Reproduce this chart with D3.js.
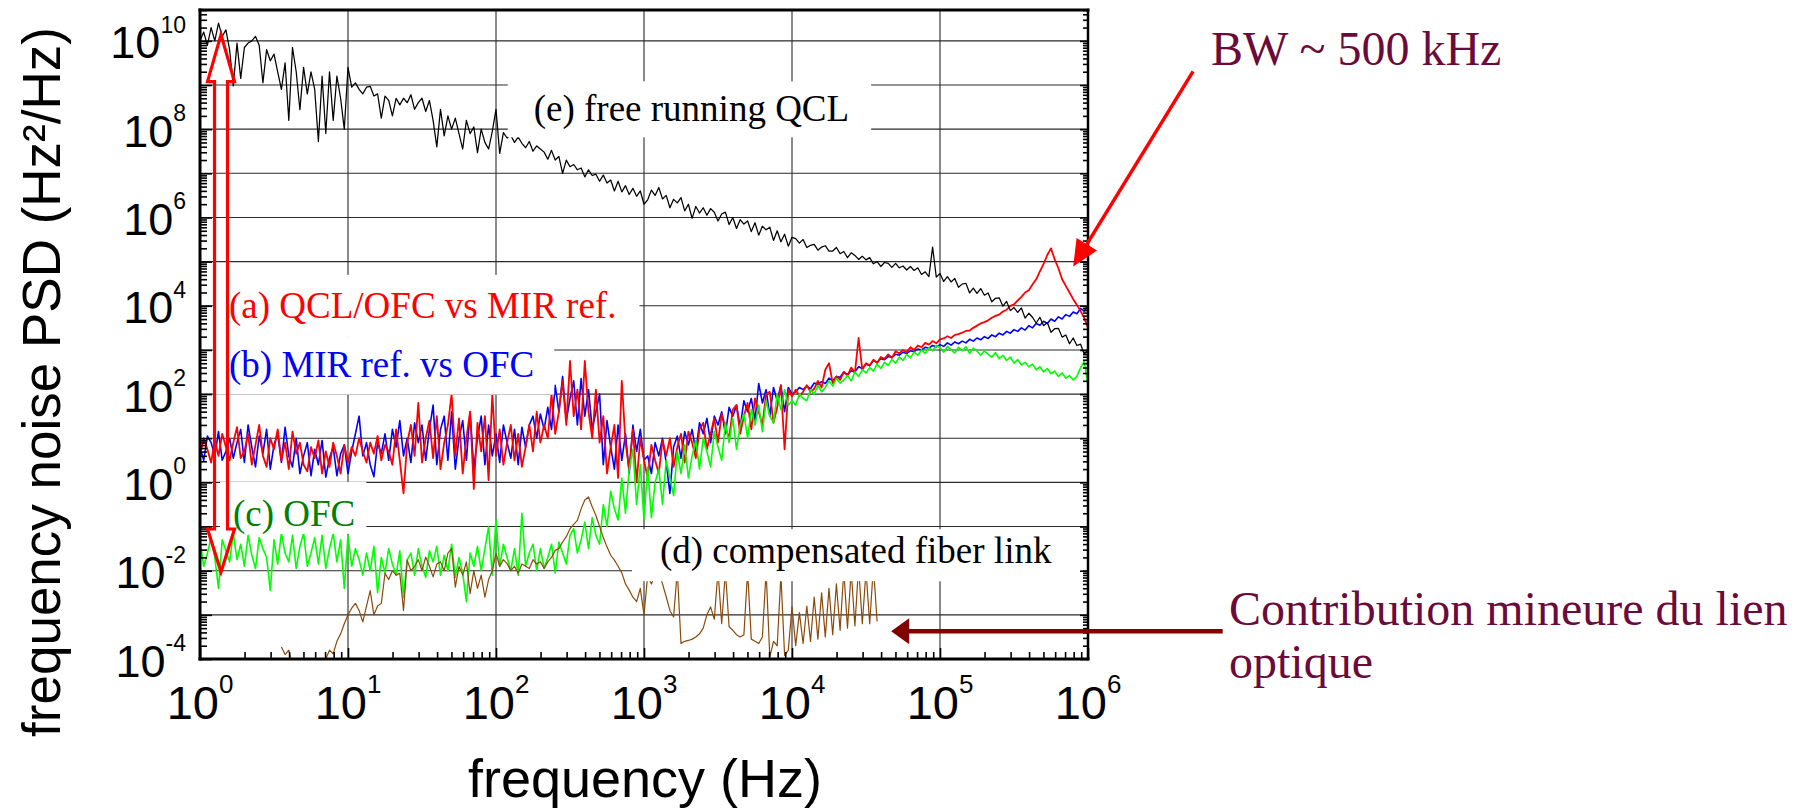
<!DOCTYPE html>
<html>
<head>
<meta charset="utf-8">
<script src="https://cdn.jsdelivr.net/npm/d3@7"></script>
<style>
  html, body { margin: 0; padding: 0; background: #fff; }
  svg { display: block; }
</style>
</head>
<body>
<svg id="chart" width="1805" height="811"></svg>
<script>
// Frequency-noise PSDs sampled on a common logarithmic grid:
// f = 10^(FREQ_START_EXP + i * FREQ_STEP_EXP) Hz, from 1 Hz to 1 MHz.
const FREQ_START_EXP = 0;
const FREQ_STEP_EXP = 0.025;

// Values are log10 of the PSD in Hz²/Hz; null means no data at that frequency.
const freeRunningQCL = [
  10.0,10.2,9.9,10.3,10.0,10.4,10.1,10.25,9.8,8.98,9.95,9.15,9.85,9.95,10.0,10.1,9.9,9.05,9.8,9.55,
  9.7,9.3,8.9,9.5,8.2,9.85,9.3,8.44,9.4,8.8,9.3,8.9,7.72,9.2,7.9,9.3,8.2,9.2,8.7,8.0,9.4,
  8.95,9.05,8.9,8.8,8.95,8.97,8.75,8.8,8.25,8.75,8.65,8.3,8.7,8.55,8.7,8.6,8.78,8.45,8.6,8.7,
  8.4,8.65,8.2,7.6,8.45,7.85,8.3,8.0,8.25,7.9,7.55,8.2,7.9,8.05,7.47,8.0,7.7,7.55,7.95,8.45,
  7.45,7.92,7.8,7.86,7.7,7.82,7.68,7.58,7.72,7.5,7.62,7.55,7.48,7.32,7.52,7.3,7.38,7.0,7.3,7.15,
  7.2,7.08,7.12,6.92,7.08,6.95,6.98,6.82,6.96,6.78,6.85,6.6,6.82,6.58,6.72,6.52,6.66,6.48,6.6,6.3,
  6.4,6.62,6.5,6.68,6.42,6.5,6.22,6.41,6.33,6.45,6.15,6.3,5.98,6.25,6.1,6.22,6.05,6.2,6.12,5.92,
  6.08,6.12,5.84,6.0,5.75,5.95,5.85,5.92,5.68,5.88,5.6,5.8,5.72,5.78,5.48,5.7,5.45,5.62,5.35,5.55,
  5.52,5.42,5.5,5.32,5.37,5.39,5.26,5.33,5.36,5.24,5.24,5.32,5.18,5.23,5.09,5.2,5.14,5.05,5.12,5.04,
  5.09,4.95,5.0,4.89,4.98,4.96,4.87,4.96,4.86,4.9,4.81,4.89,4.8,4.86,4.71,4.77,4.66,5.33,4.65,4.73,
  4.55,4.66,4.54,4.62,4.42,4.49,4.51,4.29,4.4,4.28,4.39,4.24,4.29,4.09,4.17,4.18,3.99,4.1,3.89,3.96,
  3.85,3.95,3.72,3.83,3.74,3.61,3.74,3.55,3.62,3.4,3.48,3.49,3.29,3.34,3.14,3.27,3.1,3.13,2.9,3.01
];

const qclOfcVsMirRef = [
  0.6,1.0,0.75,0.45,0.95,0.6,1.1,0.8,0.5,0.9,
  1.25,0.55,0.7,1.1,0.4,0.85,1.3,0.6,0.35,1.0,0.75,1.2,0.5,0.9,0.3,1.15,0.65,
  0.9,0.4,0.25,0.8,0.55,0.95,0.2,0.7,0.35,0.9,0.6,0.2,0.85,0.45,
  0.8,0.6,1.0,0.7,0.45,0.9,0.65,1.05,0.5,0.85,0.7,0.4,
  1.2,0.5,-0.25,0.9,1.3,0.6,1.8,0.45,1.0,1.4,0.55,
  1.5,0.3,0.9,1.3,2.0,0.6,1.45,0.2,1.0,1.6,-0.15,1.35,0.7,1.5,0.05,2.0,0.6,
  1.2,0.4,0.9,1.3,0.5,1.1,0.35,0.8,1.3,0.7,
  1.6,0.9,1.3,1.0,
  2.0,1.1,1.6,2.3,1.3,2.75,1.5,2.1,1.2,2.75,1.6,1.0,2.1,0.9,
  1.5,0.2,0.8,1.3,0.1,2.3,0.9,0.3,1.2,0.0,1.0,0.5,
  0.1,0.85,0.5,0.2,0.95,0.6,1.0,0.35,0.8,1.1,0.45,1.15,0.9,0.55,1.2,1.35,0.75,1.1,1.45,0.9,
  1.55,1.25,1.0,1.65,1.75,1.1,1.5,1.8,1.2,1.9,1.6,1.3,2.0,2.05,1.35,1.7,2.2,0.75,2.1,1.95,
  2.1,1.95,2.05,2.2,2.05,2.12,2.3,2.15,2.55,2.7,2.25,2.4,2.32,2.5,2.42,2.6,2.48,3.27,2.55,2.7,
  2.65,2.78,2.7,2.84,2.8,2.9,2.82,2.97,2.92,3.0,2.95,3.06,3.0,3.1,3.06,3.16,3.12,3.2,3.15,3.24,
  3.26,3.31,3.27,3.34,3.36,3.39,3.43,3.44,3.5,3.55,3.6,3.63,3.67,3.73,3.77,3.8,3.87,3.91,4.0,4.03,
  4.12,4.2,4.3,4.35,4.48,4.6,4.78,4.95,5.15,5.3,5.05,4.85,4.6,4.45,4.3,4.15,4.02,3.88,3.72,3.5
];

const mirRefVsOfc = [
  0.8,0.5,1.05,0.9,0.6,1.15,0.5,0.7,1.0,0.55,
  0.9,1.2,0.45,1.3,0.8,0.35,1.05,0.65,1.2,0.3,0.85,1.1,0.45,1.25,0.6,0.35,1.0,
  0.2,0.6,0.9,0.15,0.75,0.4,0.95,0.12,0.55,0.8,0.15,0.65,0.85,0.2,
  0.7,1.1,1.5,0.6,0.9,0.4,0.13,0.9,0.65,1.1,0.5,1.2,
  0.8,1.4,0.6,1.0,0.45,1.35,0.9,1.3,0.5,1.2,1.75,
  0.4,1.2,1.5,0.5,1.6,0.3,1.0,1.4,0.5,1.6,0.3,1.0,1.5,0.4,1.3,0.6,1.1,
  0.45,1.3,0.9,0.55,1.2,0.4,1.25,0.8,1.3,1.5,
  1.0,1.55,1.2,1.7,
  1.2,2.2,1.6,2.4,1.4,1.9,2.3,1.3,2.35,1.5,2.1,1.2,1.6,2.0,
  0.4,1.4,0.8,0.3,1.3,0.5,1.1,0.2,1.3,0.7,1.2,0.5,
  0.6,0.2,0.9,0.6,1.0,0.45,-0.25,0.8,1.05,0.55,1.15,0.85,1.2,0.7,1.35,1.1,1.45,0.9,1.5,1.3,
  1.6,1.1,1.7,1.5,1.75,1.25,1.85,1.6,1.9,1.4,2.24,1.8,2.1,1.5,2.15,1.85,2.2,1.6,2.15,2.0,
  2.05,2.15,2.1,2.18,2.12,2.25,2.22,2.28,2.24,2.36,2.3,2.4,2.38,2.5,2.44,2.53,2.5,2.62,2.58,2.68,
  2.64,2.76,2.72,2.8,2.78,2.85,2.83,2.9,2.88,2.95,2.92,2.98,2.96,3.02,3.0,3.06,3.04,3.1,3.07,3.12,
  3.08,3.16,3.11,3.18,3.14,3.2,3.16,3.24,3.2,3.27,3.23,3.3,3.26,3.34,3.3,3.38,3.34,3.42,3.38,3.46,
  3.42,3.5,3.45,3.55,3.5,3.6,3.56,3.65,3.6,3.7,3.65,3.75,3.7,3.8,3.76,3.86,3.82,3.94,3.88,4.0
];

const ofcAlone = [
  -1.3,-1.9,-1.6,-1.25,-1.7,-2.4,-1.3,-1.55,-1.8,-1.15,-1.75,-1.4,-1.9,-1.2,-1.65,-1.95,-1.25,-1.5,-1.7,-2.45,
  -1.3,-1.85,-1.15,-1.6,-1.8,-1.2,-1.95,-1.45,-1.15,-1.9,-1.6,-1.25,-1.85,-1.2,-1.95,-1.5,-1.15,-1.8,-1.3,-2.4,-1.2,
  -1.9,-1.5,-1.75,-2.1,-1.6,-2.0,-1.45,-2.5,-1.7,-2.05,-1.5,-1.85,-2.1,-1.55,-2.6,-1.75,-1.6,-2.1,-1.5,-1.9,
  -2.15,-1.55,-1.8,-1.45,-2.1,-1.65,-2.0,-1.4,-2.15,-1.7,-2.05,-2.7,-1.6,-1.9,-1.45,-2.0,-1.5,-1.0,-2.1,-0.85,
  -1.9,-1.4,-1.7,-2.0,-1.5,-2.1,-0.7,-1.9,-1.6,-1.4,-2.0,-1.5,-1.95,-1.7,-1.4,-2.05,-1.35,-1.6,-1.85,-1.2,
  -1.05,-1.6,-1.3,-0.9,-1.5,-0.8,-1.2,-1.4,-0.5,-1.0,-0.2,-0.6,-0.85,0.1,-0.7,0.3,0.75,-0.5,0.4,-0.85,
  0.35,-0.8,0.0,0.3,-0.5,0.5,0.1,-0.3,0.7,0.2,0.85,0.1,0.6,0.95,0.3,1.0,0.7,0.35,1.15,0.8,
  0.5,1.35,0.9,1.45,0.75,1.3,1.55,1.0,1.65,1.3,1.75,1.15,1.85,1.5,1.35,2.0,1.65,2.1,1.75,1.85,
  1.75,2.0,1.9,1.85,2.1,2.0,2.2,2.05,2.15,2.3,2.18,2.35,2.25,2.32,2.42,2.3,2.5,2.4,2.55,2.48,
  2.6,2.52,2.68,2.58,2.72,2.65,2.78,2.7,2.84,2.76,2.9,2.82,2.95,2.88,3.0,2.92,3.05,2.98,3.1,3.05,
  2.95,3.08,3.0,2.93,3.06,2.98,3.07,2.92,3.04,2.97,2.88,2.98,2.9,2.84,2.94,2.8,2.88,2.76,2.84,2.7,
  2.78,2.66,2.72,2.62,2.68,2.55,2.62,2.5,2.58,2.46,2.52,2.4,2.48,2.36,2.42,2.32,2.4,2.6,2.74,2.2
];

const compensatedFiberLink = [
  null,null,null,null,null,null,null,null,null,null,null,null,null,null,null,null,null,null,null,null,
  null,null,-3.73,-3.9,-3.8,-4.2,-4.4,-4.3,-4.5,-4.3,-4.4,-4.5,-4.3,-4.1,-4.0,-3.8,-3.88,-3.6,-3.43,-3.2,-3.0,
  -2.85,-2.74,-2.9,-3.16,-2.8,-2.45,-3.0,-2.8,-2.74,-2.06,-2.2,-2.0,-2.1,-2.06,-2.9,-1.76,-2.0,-1.9,-1.75,-2.0,
  -1.69,-1.9,-2.14,-1.85,-1.8,-2.0,-1.6,-1.5,-2.37,-1.9,-2.1,-1.8,-2.52,-2.0,-2.4,-2.1,-2.6,-2.2,-2.0,-1.61,
  -1.9,-1.75,-1.84,-2.0,-1.9,-2.06,-1.85,-1.9,-1.95,-1.75,-1.85,-1.8,-1.95,-1.8,-1.7,-1.54,-1.5,-1.35,-1.23,-1.05,
  -0.95,-0.86,-0.6,-0.4,-0.33,-0.55,-0.75,-1.0,-1.25,-1.46,-1.65,-1.76,-1.9,-2.05,-2.3,-2.44,-2.6,-2.7,-2.4,-3.0,
  -2.1,-2.3,-2.1,-2.0,-2.3,-2.59,-2.9,-3.05,-2.0,-3.65,-3.6,-3.58,-3.55,-3.5,-3.43,-3.3,-3.0,-2.82,-3.1,-2.0,
  -3.2,-2.0,-3.27,-3.35,-3.45,-3.5,-3.45,-2.0,-3.55,-3.6,-3.65,-3.5,-2.0,-3.95,-3.6,-3.7,-2.1,-3.92,-3.8,-2.82,
  -3.7,-2.95,-3.65,-2.8,-3.6,-2.6,-3.55,-2.5,-3.5,-2.4,-3.45,-2.3,-3.35,-2.0,-3.3,-2.0,-3.25,-1.9,-3.2,-2.0,
  -3.2,-1.9,-3.15
];

// Axis decades
const xDecades = [0, 1, 2, 3, 4, 5, 6];
const yLabelDecades = [-4, -2, 0, 2, 4, 6, 8, 10];
const yGridDecades = [-3, -2, -1, 0, 1, 2, 3, 4, 5, 6, 7, 8, 9, 10];
const xGridDecades = [1, 2, 3, 4, 5];

// Annotation labels: text, colour, anchor (log10 f, log10 PSD) and white backing padding [l,t,r,b]
const curveLabels = [
  { text: "(e) free running QCL",       color: "#000000", fx: 2.255, sy: 8.177,  pad: [26, 7, 22, 7] },
  { text: "(a) QCL/OFC vs MIR ref.",    color: "#ff0000", fx: 0.196, sy: 3.726,  pad: [13, 10, 23, 10] },
  { text: "(b) MIR ref. vs OFC",        color: "#0000ff", fx: 0.196, sy: 2.395,  pad: [13, 7, 20, 9] },
  { text: "(c) OFC",                    color: "#008000", fx: 0.223, sy: -0.984, pad: [13, 11, 11, -1] },
  { text: "(d) compensated fiber link", color: "#000000", fx: 3.108, sy: -1.83,  pad: [28, 1, 31, 9] }
];

const svg = d3.select("#chart");
const plot = { left: 200, right: 1088, top: 10, bottom: 659 };

const x = d3.scaleLog().domain([1, 1e6]).range([plot.left, plot.right]);
const y = d3.scaleLog().domain([1e-4, 5e10]).range([plot.bottom, plot.top]);

const exp10 = e => Math.pow(10, e);

// Clip for the traces
svg.append("defs").append("clipPath").attr("id", "plotClip")
  .append("rect")
  .attr("x", plot.left).attr("y", plot.top)
  .attr("width", plot.right - plot.left).attr("height", plot.bottom - plot.top);

// Grid
const grid = svg.append("g").attr("stroke", "#2a2a2a").attr("stroke-width", 1.1);
grid.selectAll("line.h").data(yGridDecades).join("line")
  .attr("x1", plot.left).attr("x2", plot.right)
  .attr("y1", d => y(exp10(d))).attr("y2", d => y(exp10(d)));
grid.selectAll("line.v").data(xGridDecades).join("line")
  .attr("y1", plot.top).attr("y2", plot.bottom)
  .attr("x1", d => x(exp10(d))).attr("x2", d => x(exp10(d)));

// Traces
const toPoints = arr => arr.map((v, i) => ({
  f: exp10(FREQ_START_EXP + i * FREQ_STEP_EXP),
  s: v === null ? null : exp10(v)
}));
const line = d3.line()
  .defined(d => d.s !== null)
  .x(d => x(d.f))
  .y(d => y(d.s));

const traces = [
  { data: mirRefVsOfc,          color: "#0000ff", width: 1.6 },
  { data: qclOfcVsMirRef,       color: "#ff0000", width: 1.8 },
  { data: ofcAlone,             color: "#00ff00", width: 1.6 },
  { data: compensatedFiberLink, color: "#8c4a0a", width: 1.2 },
  { data: freeRunningQCL,       color: "#000000", width: 1.25 }
];
const traceG = svg.append("g").attr("clip-path", "url(#plotClip)");
traceG.selectAll("path").data(traces).join("path")
  .attr("fill", "none")
  .attr("stroke", d => d.color)
  .attr("stroke-width", d => d.width)
  .attr("stroke-linejoin", "round")
  .attr("d", d => line(toPoints(d.data)));

// Curve labels with white backing
const labelG = svg.append("g");
curveLabels.forEach(l => {
  const g = labelG.append("g");
  const rect = g.append("rect").attr("fill", "#fff");
  const t = g.append("text")
    .attr("x", x(exp10(l.fx))).attr("y", y(exp10(l.sy)))
    .attr("font-family", "'Liberation Serif', 'Times New Roman', serif")
    .attr("font-size", 37)
    .attr("fill", l.color)
    .text(l.text);
  const b = t.node().getBBox();
  rect.attr("x", b.x - l.pad[0]).attr("y", b.y - l.pad[1])
    .attr("width", b.width + l.pad[0] + l.pad[2])
    .attr("height", b.height + l.pad[1] + l.pad[3]);
});

// Axes: inward ticks
const minorTicks = (lo, hi) => {
  const out = [];
  for (let e = lo; e < hi; e++) for (let k = 2; k <= 9; k++) out.push(k * exp10(e));
  return out;
};
const xMinor = minorTicks(0, 6);
const yMinor = minorTicks(-4, 11).filter(v => v <= 5e10);
const yMajor = d3.range(-4, 11).map(exp10);
const xMajor = xDecades.map(exp10);

function styleAxis(g) {
  g.select(".domain").remove();
  g.selectAll(".tick line").attr("stroke", "#000").attr("stroke-width", 1.6);
  g.selectAll(".tick text").remove();
}
svg.append("g").attr("transform", `translate(0,${plot.bottom})`)
  .call(d3.axisBottom(x).tickValues(xMajor).tickSize(-11).tickFormat(() => "")).call(styleAxis);
svg.append("g").attr("transform", `translate(0,${plot.bottom})`)
  .call(d3.axisBottom(x).tickValues(xMinor).tickSize(-7).tickFormat(() => "")).call(styleAxis);
svg.append("g").attr("transform", `translate(${plot.left},0)`)
  .call(d3.axisLeft(y).tickValues(yMajor).tickSize(-12).tickFormat(() => "")).call(styleAxis);
svg.append("g").attr("transform", `translate(${plot.left},0)`)
  .call(d3.axisLeft(y).tickValues(yMinor).tickSize(-7).tickFormat(() => "")).call(styleAxis);
svg.append("g").attr("transform", `translate(${plot.right},0)`)
  .call(d3.axisRight(y).tickValues(yMajor).tickSize(-8).tickFormat(() => "")).call(styleAxis);
svg.append("g").attr("transform", `translate(${plot.right},0)`)
  .call(d3.axisRight(y).tickValues(yMinor).tickSize(-5).tickFormat(() => "")).call(styleAxis);

// Frame
const frame = svg.append("g").attr("stroke", "#000").attr("stroke-linecap", "square");
frame.append("line").attr("x1", plot.left).attr("x2", plot.right).attr("y1", plot.top).attr("y2", plot.top).attr("stroke-width", 3);
frame.append("line").attr("x1", plot.left).attr("x2", plot.right).attr("y1", plot.bottom).attr("y2", plot.bottom).attr("stroke-width", 3);
frame.append("line").attr("x1", plot.left).attr("x2", plot.left).attr("y1", plot.top).attr("y2", plot.bottom).attr("stroke-width", 3);
frame.append("line").attr("x1", plot.right).attr("x2", plot.right).attr("y1", plot.top).attr("y2", plot.bottom).attr("stroke-width", 2.5);

// Tick labels (powers of ten)
const sans = "'Liberation Sans', Arial, Helvetica, sans-serif";
const xl = svg.append("g").attr("font-family", sans).attr("fill", "#000");
xDecades.forEach(e => {
  const t = xl.append("text")
    .attr("x", x(exp10(e))).attr("y", plot.bottom + 60)
    .attr("text-anchor", "middle").attr("font-size", 47);
  t.append("tspan").text("10");
  t.append("tspan").attr("font-size", 26).attr("dy", -26).text(String(e));
});
const yl = svg.append("g").attr("font-family", sans).attr("fill", "#000");
yLabelDecades.forEach(e => {
  const t = yl.append("text")
    .attr("x", 186).attr("y", y(exp10(e)) + 17.5)
    .attr("text-anchor", "end").attr("font-size", 45);
  t.append("tspan").text("10");
  t.append("tspan").attr("font-size", 23).attr("dy", -25.5).text(String(e));
});

// Axis titles
svg.append("text")
  .attr("x", (plot.left + plot.right) / 2 + 1).attr("y", 797)
  .attr("text-anchor", "middle")
  .attr("font-family", sans).attr("font-size", 54)
  .text("frequency (Hz)");
svg.append("text")
  .attr("transform", "translate(60,382) rotate(-90)")
  .attr("text-anchor", "middle")
  .attr("font-family", sans).attr("font-size", 53)
  .text("frequency noise PSD (Hz²/Hz)");

// Double-headed hollow arrow spanning the locked-noise range
(function () {
  const cx = x(exp10(0.142));
  const yTop = y(exp10(10.14)), yBot = y(exp10(-2.03));
  const hw = 13.5, sw = 6.5, hlTop = 47, hlBot = 43;
  const p = [
    [cx, yTop], [cx + hw, yTop + hlTop], [cx + sw, yTop + hlTop],
    [cx + sw, yBot - hlBot], [cx + hw, yBot - hlBot], [cx, yBot],
    [cx - hw, yBot - hlBot], [cx - sw, yBot - hlBot], [cx - sw, yTop + hlTop],
    [cx - hw, yTop + hlTop]
  ];
  svg.append("path")
    .attr("d", "M" + p.map(d => d.join(",")).join("L") + "Z")
    .attr("fill", "none").attr("stroke", "#ff0000").attr("stroke-width", 3.2)
    .attr("stroke-linejoin", "miter");
})();

// Solid arrows with filled heads
function arrow(x0, y0, x1, y1, color, width, headLen, headHalf) {
  const dx = x1 - x0, dy = y1 - y0, len = Math.hypot(dx, dy);
  const ux = dx / len, uy = dy / len, nx = -uy, ny = ux;
  const bx = x1 - ux * headLen, by = y1 - uy * headLen;
  svg.append("line").attr("x1", x0).attr("y1", y0).attr("x2", bx + ux).attr("y2", by + uy)
    .attr("stroke", color).attr("stroke-width", width);
  svg.append("path")
    .attr("d", `M${x1},${y1}L${bx + nx * headHalf},${by + ny * headHalf}L${bx - nx * headHalf},${by - ny * headHalf}Z`)
    .attr("fill", color);
}
// Loop bandwidth pointer (to the servo bump near 500 kHz)
arrow(x(exp10(6.71)), y(exp10(9.31)), x(exp10(5.9)), y(exp10(4.89)), "#ff0000", 3.5, 26, 12);
// Fiber-link pointer
arrow(x(exp10(6.91)), y(exp10(-3.37)), x(exp10(4.67)), y(exp10(-3.37)), "#800000", 4.5, 18, 13);

// Side notes
const serif = "'Liberation Serif', 'Times New Roman', serif";
svg.append("text").attr("x", 1211).attr("y", 65)
  .attr("font-family", serif).attr("font-size", 48).attr("fill", "#6b0b3b")
  .text("BW ~ 500 kHz");
const note = svg.append("text").attr("font-family", serif).attr("font-size", 48).attr("fill", "#6b0b3b");
note.append("tspan").attr("x", 1229).attr("y", 625).text("Contribution mineure du lien");
note.append("tspan").attr("x", 1229).attr("y", 678).text("optique");
</script>
</body>
</html>
